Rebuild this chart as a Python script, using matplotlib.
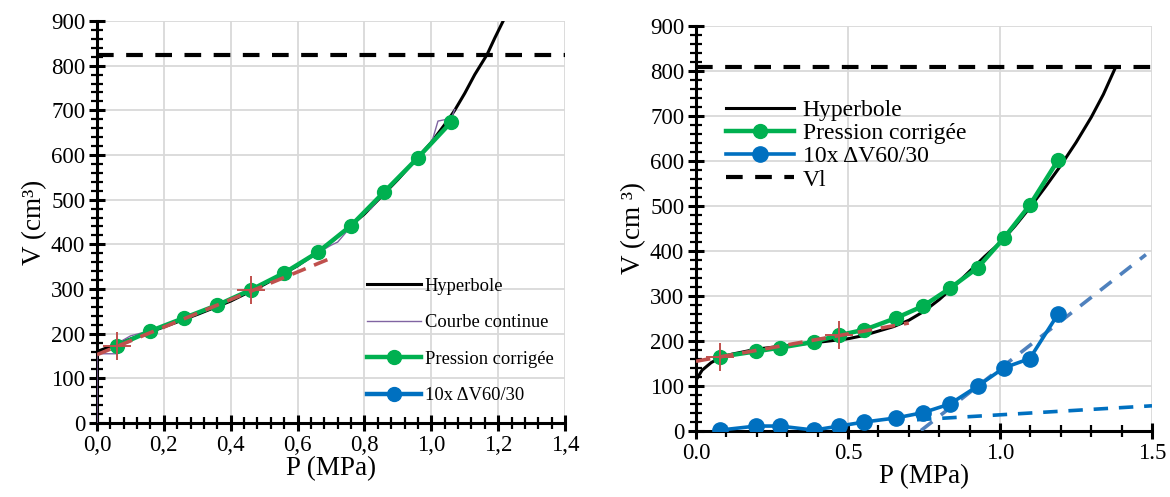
import numpy as np
import matplotlib
matplotlib.use("Agg")
import matplotlib.pyplot as plt
from matplotlib.ticker import MultipleLocator, FuncFormatter

plt.rcParams['font.family'] = ['Liberation Serif', 'DejaVu Serif']

GREEN = "#00B050"
BLUE = "#0070C0"
STEEL = "#4F81BD"
RED = "#C0504D"
PURPLE = "#8064A2"
GRID = "#D9D9D9"

# ---- left chart data ----
hyp_l_p = [0.0, 0.1, 0.2, 0.3, 0.4, 0.5, 0.6, 0.7, 0.8, 0.9, 1.0, 1.05, 1.07, 1.1, 1.13, 1.167, 1.19, 1.215]
hyp_l_v = [160, 188, 215, 243, 273, 310, 352, 405, 468, 545, 628, 678, 700, 738, 780, 825, 862, 900]

cont_p = [0.0, 0.0, 0.06, 0.065, 0.10, 0.16, 0.22, 0.26, 0.32, 0.36, 0.42, 0.46, 0.52, 0.56,
          0.62, 0.66, 0.70, 0.72, 0.76, 0.80, 0.82, 0.86, 0.90, 0.96, 1.00, 1.02, 1.06, 1.07]
cont_v = [0, 155, 155, 180, 195, 207, 222, 235, 250, 262, 282, 296, 318, 335,
          360, 380, 398, 405, 440, 470, 480, 517, 550, 592, 625, 676, 682, 702]

corr_l_p = [0.06, 0.16, 0.26, 0.36, 0.46, 0.56, 0.66, 0.76, 0.86, 0.96, 1.06]
corr_l_v = [173, 206, 235, 264, 298, 336, 382, 442, 518, 594, 674]

fit_l_p = [0.0, 0.7]
fit_l_v = [153, 369]
cross_l_p = [0.06, 0.46]
cross_l_v = [172, 298]
vl_left = 825

# ---- right chart data ----
hyp_r_p = [0.0, 0.02, 0.05, 0.08, 0.12, 0.2, 0.3, 0.4, 0.5, 0.55, 0.6, 0.65, 0.7, 0.75, 0.8, 0.85,
           0.9, 0.95, 1.0, 1.05, 1.1, 1.15, 1.2, 1.25, 1.3, 1.34, 1.38]
hyp_r_v = [113, 135, 152, 163, 171, 182, 190, 197, 205, 212, 222, 232, 246, 266, 292, 322,
           355, 388, 418, 456, 498, 543, 590, 641, 697, 748, 808]

corr_r_p = [0.079, 0.198, 0.275, 0.388, 0.471, 0.554, 0.658, 0.748, 0.835, 0.927, 1.012, 1.098, 1.192]
corr_r_v = [165, 177, 185, 198, 213, 225, 251, 278, 317, 363, 428, 502, 603]
dv_r_v = [2, 11, 11, 2, 11, 20, 29, 41, 60, 100, 140, 161, 261]

fit_r_p = [0.0, 0.7]
fit_r_v = [155, 240]
cross_r_p = [0.079, 0.471]
cross_r_v = [165, 213]
steep_p = [0.74, 1.48]
steep_v = [1, 392]
flat_p = [0.727, 1.5]
flat_v = [25, 56]
vl_right = 808

W, H = 1170, 497
fig = plt.figure(figsize=(W / 100, H / 100), dpi=100)
ax1 = fig.add_axes([97 / W, 1 - 423 / H, 468 / W, 402 / H])
ax2 = fig.add_axes([696 / W, 1 - 431 / H, 456 / W, 405 / H])


def style_axes(ax, xmax, xmajor, xminor, tick_fs, label_fs, comma):
    ax.set_xlim(0, xmax)
    ax.set_ylim(0, 900)
    ax.xaxis.set_major_locator(MultipleLocator(xmajor))
    ax.xaxis.set_minor_locator(MultipleLocator(xminor))
    ax.yaxis.set_major_locator(MultipleLocator(100))
    ax.yaxis.set_minor_locator(MultipleLocator(20))
    if comma:
        ax.xaxis.set_major_formatter(FuncFormatter(lambda v, _: f"{v:.1f}".replace(".", ",")))
    else:
        ax.xaxis.set_major_formatter(FuncFormatter(lambda v, _: f"{v:.1f}"))
    ax.grid(True, which="major", color=GRID, linewidth=1.3, zorder=0)
    ax.set_axisbelow(True)
    for s in ["top", "right"]:
        ax.spines[s].set_visible(False)
    for s in ["left", "bottom"]:
        ax.spines[s].set_linewidth(2.2)
        ax.spines[s].set_zorder(1)
    ax.tick_params(which="major", direction="inout", length=11, width=2.2,
                   labelsize=tick_fs, pad=3)
    ax.tick_params(which="minor", direction="inout", length=8, width=1.6)
    ax.set_xlabel("P (MPa)", fontsize=label_fs, labelpad=0)


style_axes(ax1, 1.4, 0.2, 0.04, 16.5, 19.5, True)
ax1.set_ylabel("V (cm³)", fontsize=19.5, labelpad=3)
style_axes(ax2, 1.5, 0.5, 0.1, 16.5, 19.5, False)
ax2.set_ylabel("V (cm ³)", fontsize=19.5, labelpad=3)

# left chart
ax1.axhline(vl_left, color="black", linewidth=3, dashes=(4, 3), zorder=3)
ax1.plot(hyp_l_p, hyp_l_v, color="black", linewidth=2.2, label="Hyperbole", zorder=3)
ax1.plot(cont_p, cont_v, color=PURPLE, linewidth=1, label="Courbe continue", zorder=4)
ax1.plot(corr_l_p, corr_l_v, color=GREEN, linewidth=3.2, marker="o", markersize=10,
         label="Pression corrigée", zorder=5)
ax1.plot([], [], color=BLUE, linewidth=3.2, marker="o", markersize=10, label="10x ΔV60/30")
ax1.plot(fit_l_p, fit_l_v, color=RED, linewidth=2.6, dashes=(4, 2.5), zorder=6)
ax1.plot(cross_l_p, cross_l_v, linestyle="none", marker="+", color=RED, markersize=20,
         markeredgewidth=1.4, zorder=6)
ax1.legend(loc="upper left", bbox_to_anchor=(0.57, 0.37), frameon=False, fontsize=13.3,
           handlelength=2.9, handletextpad=0.2, labelspacing=1.05, borderaxespad=0,
           borderpad=0.2)

# right chart
ax2.plot(hyp_r_p, hyp_r_v, color="black", linewidth=2.2, label="Hyperbole", zorder=3)
ax2.plot(corr_r_p, corr_r_v, color=GREEN, linewidth=3.2, marker="o", markersize=10,
         label="Pression corrigée", zorder=5)
ax2.plot(corr_r_p, dv_r_v, color=BLUE, linewidth=2.6, marker="o", markersize=11,
         label="10x ΔV60/30", zorder=5)
ax2.axhline(vl_right, color="black", linewidth=3, dashes=(4, 3), label="Vl", zorder=3)
ax2.plot(steep_p, steep_v, color=STEEL, linewidth=2.6, dashes=(4, 3), zorder=4)
ax2.plot(flat_p, flat_v, color=BLUE, linewidth=2.6, dashes=(4, 3), zorder=4)
ax2.plot(fit_r_p, fit_r_v, color=RED, linewidth=2.6, dashes=(4, 2.5), zorder=6)
ax2.plot(cross_r_p, cross_r_v, linestyle="none", marker="+", color=RED, markersize=20,
         markeredgewidth=1.4, zorder=6)
ax2.legend(loc="upper left", bbox_to_anchor=(0.055, 0.83), frameon=False, fontsize=17,
           handlelength=2.9, handletextpad=0.35, labelspacing=0.07, borderaxespad=0,
           borderpad=0.2)

fig.savefig("out.png", dpi=100)
